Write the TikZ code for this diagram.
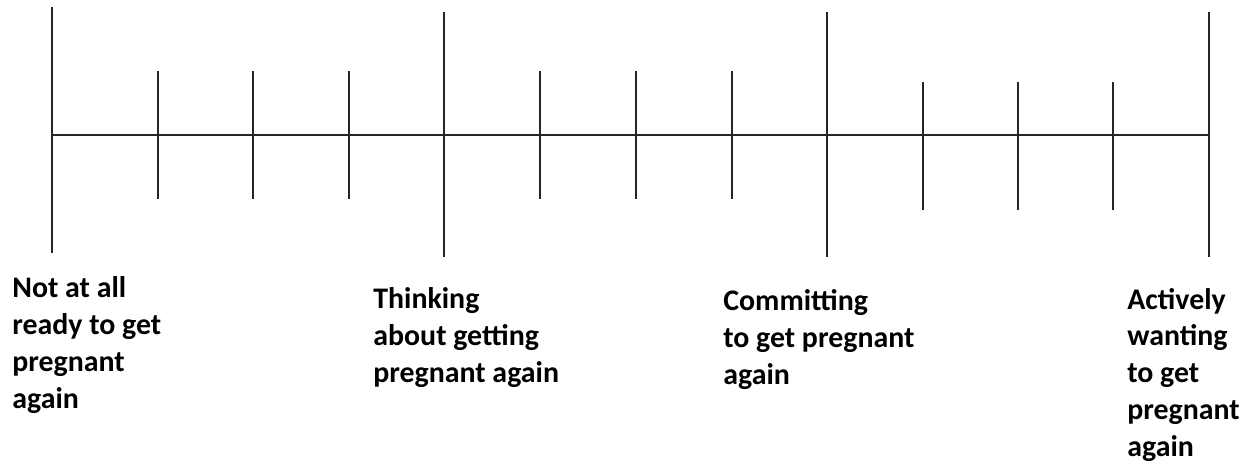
\documentclass[tikz,border=0pt]{standalone}
\usepackage{fontspec}
\setmainfont{Carlito}
\usepackage{tikz}

\tikzset{
  axisline/.style={line width=1pt, draw=black!85},
  stagelabel/.style={anchor=base west, inner sep=0pt, align=left,
    font=\bfseries\fontsize{17}{20.9}\selectfont}
}

\begin{document}
\begin{tikzpicture}[x=0.02cm, y=-0.02cm]
		\useasboundingbox (0,0) rectangle (1259,468);

		% Main horizontal line
		\coordinate (start) at (52,135);
		\coordinate (end) at (1209,135);
		\draw[axisline] (start) -- (end);

		% Long ticks at the four stages
		\draw[axisline] (52,7) -- (52,253);
		\draw[axisline] (444,12) -- (444,257);
		\draw[axisline] (827,12) -- (827,257);
		\draw[axisline] (1209,12) -- (1209,257);

		% Short ticks in between
		\foreach \x in {158,253,349}
		  \draw[axisline] (\x,71) -- (\x,199);
		\foreach \x in {540,636,732}
		  \draw[axisline] (\x,71) -- (\x,199);
		\foreach \x in {923,1018,1113}
		  \draw[axisline] (\x,82) -- (\x,210);

		% Stage labels (anchored at the baseline of the last line)
		\node[stagelabel] (notready) at (12,408) {Not at all\\ready to get\\pregnant\\again};
		\node[stagelabel] (thinking) at (373,382) {Thinking\\about getting\\pregnant again};
		\node[stagelabel] (committing) at (723,384) {Committing\\to get pregnant\\again};
		\node[stagelabel] (actively) at (1127,456) {Actively\\wanting\\to get\\pregnant\\again};
	\end{tikzpicture}
\end{document}
